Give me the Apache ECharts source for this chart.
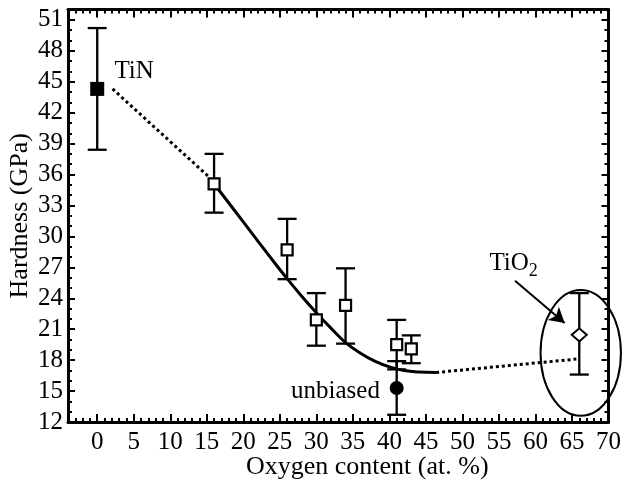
<!DOCTYPE html>
<html><head><meta charset="utf-8">
<script src="https://cdn.jsdelivr.net/npm/echarts@6/dist/echarts.min.js"></script>
<style>html,body{margin:0;padding:0;background:#fff}#c{width:625px;height:487px}</style>
</head><body><div id="c"></div>
<script>
// ---- data ----
const oxygen   = [16, 26, 30, 34, 41, 43];
const hardness = [35.1, 28.7, 21.9, 23.3, 19.5, 19.1];
const errLow   = [32.3, 25.85, 19.4, 19.6, 17.1, 17.7];
const errHigh  = [38.0, 31.7, 24.5, 26.9, 21.9, 20.4];

const tinPoint = [0, 44.3];       const tinErr = [38.4, 50.2];
const unbiasedPoint = [41, 15.3]; const unbiasedErr = [12.7, 17.9];
const tio2Point = [66, 20.45];    const tio2Err = [16.6, 24.5];

const fitX = [16, 20, 24, 26, 28, 30, 32, 34, 36, 38, 40, 42, 44, 46.4];
const fitY = [35.1, 31.4, 27.7, 25.9, 24.2, 22.6, 21.1, 19.7, 18.7, 17.9, 17.35, 17.0, 16.85, 16.8];
const tinLinkX = [2.1, 15.4];   const tinLinkY = [44.3, 35.7];
const tio2LinkX = [46.4, 65.6]; const tio2LinkY = [16.8, 18.1];

const ellipseCenter = [66.2, 18.7]; const ellipseRadii = [5.5, 6.1];
const arrowFrom = [57.2, 25.7]; const arrowTo = [64.0, 21.6];

const annotationText = ['TiN', 'unbiased', 'TiO{s|2}'];
const annotationPos = [[2.35, 46.0], [38.7, 15.0], [53.7, 27.4]];
const annotationAlign = ['left', 'right', 'left'];

const xMin = -4, xMax = 70, yMin = 12, yMax = 52;
const xMajorTicks = [0, 5, 10, 15, 20, 25, 30, 35, 40, 45, 50, 55, 60, 65, 70];
const xMinorTicks = [-3, -2, -1, 1, 2, 3, 4, 6, 7, 8, 9, 11, 12, 13, 14, 16, 17, 18, 19,
  21, 22, 23, 24, 26, 27, 28, 29, 31, 32, 33, 34, 36, 37, 38, 39, 41, 42, 43, 44,
  46, 47, 48, 49, 51, 52, 53, 54, 56, 57, 58, 59, 61, 62, 63, 64, 66, 67, 68, 69];

const FONT = "'Liberation Serif', 'Times New Roman', serif";
const zip = (a, b) => a.map((v, i) => [v, b[i]]);

const errData = oxygen.map((x, i) => [x, errLow[i], errHigh[i]])
  .concat([[tinPoint[0], tinErr[0], tinErr[1]],
           [unbiasedPoint[0], unbiasedErr[0], unbiasedErr[1]],
           [tio2Point[0], tio2Err[0], tio2Err[1]]]);

const lineSt = {color: '#000', width: 3};
function xAx(pos, major, withLabels) {
  const a = {
    type: 'value', min: xMin, max: xMax, position: pos, interval: 1,
    axisLine: {show: major, onZero: false, lineStyle: lineSt},
    axisTick: {show: true, inside: true, length: major ? 8 : 4,
               customValues: major ? xMajorTicks : xMinorTicks,
               lineStyle: {color: '#000', width: 2}},
    axisLabel: {show: false},
    splitLine: {show: false}
  };
  if (withLabels) {
    a.axisLabel = {show: true, customValues: xMajorTicks, margin: 8, color: '#000',
                   fontFamily: FONT, fontSize: 25};
    a.name = 'Oxygen content (at. %)';
    a.nameLocation = 'middle';
    a.nameGap = 32;
    a.nameMoveOverlap = false;
    a.nameTextStyle = {color: '#000', fontFamily: FONT, fontSize: 26, padding: [0, 0, 0, 58]};
  }
  return a;
}
function yAx(pos, withLabels) {
  const a = {
    type: 'value', min: yMin, max: yMax, interval: 3, position: pos,
    axisLine: {show: true, onZero: false, lineStyle: lineSt},
    axisTick: {show: true, inside: true, length: 7, lineStyle: {color: '#000', width: 2}},
    minorTick: {show: true, splitNumber: 3, length: 4, lineStyle: {color: '#000', width: 2}},
    axisLabel: {show: false},
    splitLine: {show: false}
  };
  if (withLabels) {
    a.axisLabel = {show: true, showMaxLabel: false, margin: 5, color: '#000',
                   fontFamily: FONT, fontSize: 25};
    a.name = 'Hardness (GPa)';
    a.nameLocation = 'middle';
    a.nameGap = 35;
    a.nameMoveOverlap = false;
    a.nameTextStyle = {color: '#000', fontFamily: FONT, fontSize: 26};
  }
  return a;
}

const chart = echarts.init(document.getElementById('c'), null, {renderer: 'canvas'});
chart.setOption({
  animation: false,
  backgroundColor: '#fff',
  textStyle: {fontFamily: FONT},
  grid: {left: 68, right: 16.5, top: 9.5, bottom: 65, containLabel: false, outerBoundsMode: 'none'},
  xAxis: [xAx('bottom', true, true), xAx('bottom', false, false),
          xAx('top', true, false), xAx('top', false, false)],
  yAxis: [yAx('left', true), yAx('right', false)],
  series: [
    {
      type: 'line', data: zip(fitX, fitY), smooth: 0.4, symbol: 'none', z: 2,
      lineStyle: {color: '#000', width: 3}
    },
    {
      type: 'line', data: zip(tinLinkX, tinLinkY), symbol: 'none', z: 2,
      lineStyle: {color: '#000', width: 3, type: [3, 3]}
    },
    {
      type: 'line', data: zip(tio2LinkX, tio2LinkY), symbol: 'none', z: 2,
      lineStyle: {color: '#000', width: 3, type: [3, 3]},
      markLine: {
        silent: true, symbol: ['none', 'arrow'], symbolSize: [13, 15], animation: false,
        label: {show: false},
        lineStyle: {color: '#000', width: 2, type: 'solid'},
        data: [[{coord: arrowFrom}, {coord: arrowTo}]]
      }
    },
    {
      type: 'custom', z: 3, clip: false,
      data: [ellipseCenter.concat(ellipseRadii)],
      renderItem: function (params, api) {
        const c = api.coord([api.value(0), api.value(1)]);
        const s = api.size([api.value(2), api.value(3)]);
        return {type: 'ellipse', shape: {cx: c[0], cy: c[1], rx: s[0], ry: s[1]},
                style: {fill: 'none', stroke: '#000', lineWidth: 2}};
      }
    },
    {
      type: 'custom', z: 4, data: errData,
      renderItem: function (params, api) {
        const x = api.value(0);
        const lo = api.coord([x, api.value(1)]);
        const hi = api.coord([x, api.value(2)]);
        const w = 9.5;
        const st = {stroke: '#000', lineWidth: 2.3};
        return {type: 'group', children: [
          {type: 'line', shape: {x1: hi[0], y1: hi[1], x2: lo[0], y2: lo[1]}, style: st},
          {type: 'line', shape: {x1: hi[0] - w, y1: hi[1], x2: hi[0] + w, y2: hi[1]}, style: st},
          {type: 'line', shape: {x1: lo[0] - w, y1: lo[1], x2: lo[0] + w, y2: lo[1]}, style: st}
        ]};
      }
    },
    {
      type: 'scatter', z: 5, data: zip(oxygen, hardness), symbol: 'rect', symbolSize: 11,
      itemStyle: {color: '#fff', borderColor: '#000', borderWidth: 2.2, opacity: 1}
    },
    {
      type: 'scatter', z: 5, data: [tinPoint], symbol: 'rect', symbolSize: 14,
      itemStyle: {color: '#000', opacity: 1}
    },
    {
      type: 'scatter', z: 5, data: [unbiasedPoint], symbol: 'circle', symbolSize: 14,
      itemStyle: {color: '#000', opacity: 1}
    },
    {
      type: 'scatter', z: 5, data: [tio2Point], symbol: 'diamond', symbolSize: [15, 13],
      itemStyle: {color: '#fff', borderColor: '#000', borderWidth: 2, opacity: 1}
    },
    {
      type: 'custom', z: 6, clip: false,
      data: annotationPos.map((p, i) => [p[0], p[1], i]),
      renderItem: function (params, api) {
        const i = api.value(2);
        const c = api.coord([api.value(0), api.value(1)]);
        return {type: 'text', x: c[0], y: c[1], style: {
          text: annotationText[i], fill: '#000', fontFamily: FONT, fontSize: 25,
          align: annotationAlign[i], verticalAlign: 'middle',
          rich: {s: {fontFamily: FONT, fontSize: 18, padding: [16, 0, 0, 0], fill: '#000'}}
        }};
      }
    }
  ]
});
</script></body></html>
